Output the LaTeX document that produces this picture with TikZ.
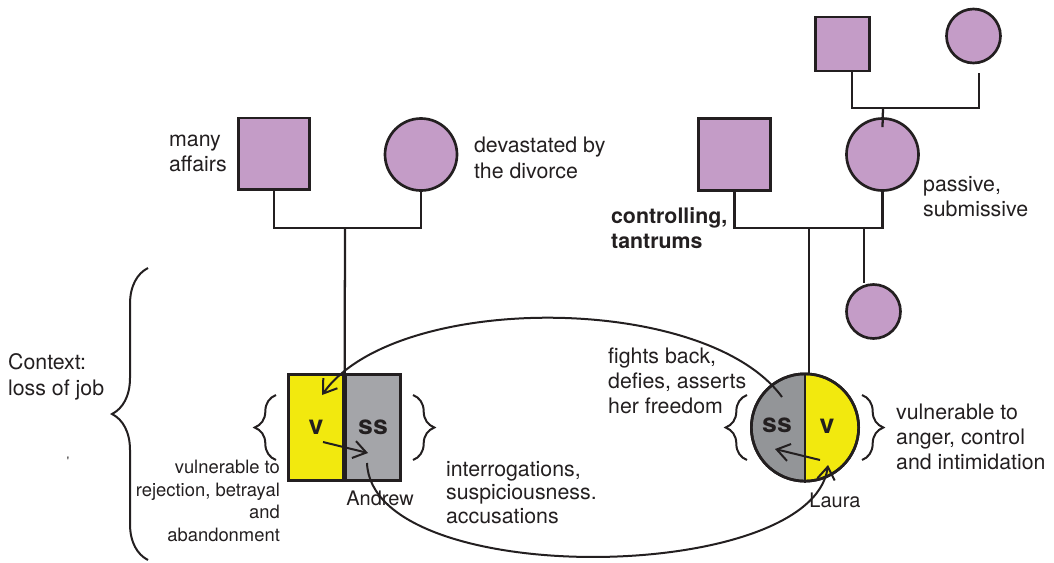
\documentclass[tikz,border=0pt]{standalone}
\usepackage{fontspec}
\setmainfont{TeX Gyre Heros}
\usetikzlibrary{arrows.meta}
\usetikzlibrary{positioning, decorations.pathreplacing}

\definecolor{ink}{RGB}{35,31,32}
\definecolor{genoPurple}{RGB}{196,156,199}
\definecolor{vYellow}{RGB}{242,233,14}
\definecolor{andrewGray}{RGB}{164,165,169}
\definecolor{lauraGray}{RGB}{147,149,152}

\begin{document}
\begin{tikzpicture}[x=0.75pt, y=-0.75pt, color=ink, line width=1.7pt, >={Straight Barb[length=9.5pt,width=13pt]}]

    % Define styles
    \tikzstyle{male} = [rectangle, draw, line width=2pt, fill=genoPurple, inner sep=0]
    \tikzstyle{female} = [circle, draw, line width=2pt, fill=genoPurple, inner sep=0]
    \tikzstyle{half} = [rectangle, draw, line width=2pt, minimum width=41pt, minimum height=79.5pt, inner sep=0, font=\fontsize{20}{24}\selectfont\bfseries]
    \tikzstyle{note} = [align=left, anchor=north west, inner sep=0, font=\fontsize{16}{19}\selectfont]
    \tikzstyle{smallnote} = [align=right, anchor=north east, inner sep=0, font=\fontsize{13.8}{17}\selectfont]
    \tikzstyle{personname} = [anchor=base, inner sep=0, font=\fontsize{15}{18}\selectfont]
    \tikzstyle{flow} = [->, line width=1.5pt]
    \tikzstyle{smallbrace} = [decorate, decoration={brace, amplitude=16pt}, line width=1.5pt]

    \useasboundingbox (0,0) rectangle (1054,562);

    % Andrew's parents
    \node[male, minimum size=53.5pt] (andrewDad) at (274, 153.5) {};
    \node[female, minimum size=54pt] (andrewMum) at (421, 154.5) {};
    \coordinate (leftMarriage) at (345, 228);

    % Laura's grandparents and parents
    \node[male, minimum size=40.5pt] (lauraGrandpa) at (842.5, 44) {};
    \node[female, minimum size=40.5pt] (lauraGrandma) at (973.5, 36) {};
    \coordinate (topMarriage) at (883, 108);
    \node[male, minimum size=54pt] (lauraDad) at (734.5, 154.5) {};
    \node[female, minimum size=54pt] (lauraMum) at (882.5, 154.5) {};
    \coordinate (rightMarriage) at (809, 228);
    \node[female, minimum size=40.5pt] (sister) at (873.5, 311.5) {};
    \coordinate (sisterDrop) at (864, 228);

    % Andrew and Laura
    \node[half, fill=vYellow] (andrewV) at (316, 427.5) {v};
    \node[half, fill=andrewGray] (andrewSS) at (373, 427.5) {ss};
    \node[female, fill=vYellow, minimum size=80.5pt,
          path picture={\fill[lauraGray] (path picture bounding box.north west) rectangle (path picture bounding box.south);}] (laura) at (805, 427.5) {};
    \draw[line width=2pt] (laura.north) -- (laura.south);
    \draw[line width=2pt] (laura) circle (40.25pt);
    \node[font=\fontsize{20}{24}\selectfont\bfseries] (lauraSS) at (777, 425) {ss};
    \node[font=\fontsize{20}{24}\selectfont\bfseries] (lauraV) at (827, 426) {v};

    % Family lines
    \draw (andrewDad.south) |- (leftMarriage) -| (andrewMum.south);
    \draw (leftMarriage) -- (andrewV.north east);
    \draw ([xshift=7pt]lauraGrandpa.south) |- (topMarriage) -| ([xshift=4pt,yshift=-6.5pt]lauraGrandma.south);
    \draw (topMarriage) -- ([yshift=-7.5pt]lauraMum.north);
    \draw (lauraDad.south) |- (rightMarriage) -| (lauraMum.south);
    \draw (rightMarriage) -- (rightMarriage |- laura.north);
    \draw (sisterDrop) -- (sisterDrop |- sister.north);

    % Labels
    \node[note] (affairs) at (168, 134) {many\\affairs};
    \node[note] (divorce) at (473, 136) {devastated by\\the divorce};
    \node[note, font=\fontsize{16}{19}\selectfont\bfseries] (controlling) at (610, 206) {controlling,\\tantrums};
    \node[note] (passive) at (922, 175) {passive,\\submissive};
    \node[note] (context) at (7, 352.7) {Context:\\loss of job};
    \node[note] (fights) at (607, 346.5) {fights back,\\defies, asserts\\her freedom};
    \node[note] (angerNote) at (895, 402.5) {vulnerable to\\anger, control\\and intimidation};
    \node[note, font=\fontsize{16}{17.8}\selectfont] (interrogations) at (445, 460) {interrogations,\\suspiciousness.\\accusations};
    \node[smallnote] (rejection) at (281, 459) {vulnerable to\\rejection, betrayal\\and\\abandonment};
    \node[personname] (andrewName) at (380, 505) {Andrew};
    \node[personname] (lauraName) at (835, 507) {Laura};
    \node[font=\fontsize{9}{10}\selectfont, inner sep=0] (stray) at (68, 461) {\textquotesingle};

    % Braces
    \draw[decorate, decoration={brace, amplitude=27pt}, line width=1.5pt] (148, 560) -- (148, 268);
    \draw[smallbrace] (276, 460) -- (276, 395);
    \draw[smallbrace] (413, 395) -- (413, 460);
    \draw[smallbrace] (747, 460) -- (747, 395);
    \draw[smallbrace] (862, 395) -- (862, 460);

    % Interaction cycle
    \coordinate (andrewFrom) at (323, 442);
    \coordinate (andrewTo) at (368, 453);
    \coordinate (lauraFrom) at (820, 460);
    \coordinate (lauraTo) at (775, 449);
    \coordinate (lauraStart) at (782, 397);
    \coordinate (andrewTip) at (322, 395);
    \coordinate (andrewStart) at (367, 463);
    \coordinate (lauraTip) at (828, 465);
    \draw[flow] (andrewFrom) -- (andrewTo);
    \draw[flow] (lauraFrom) -- (lauraTo);
    \draw[flow] (lauraStart) .. controls (705, 292) and (395, 292) .. (andrewTip);
    \draw[flow] (andrewStart) .. controls (372, 590) and (812, 585) .. (lauraTip);

\end{tikzpicture}
\end{document}
